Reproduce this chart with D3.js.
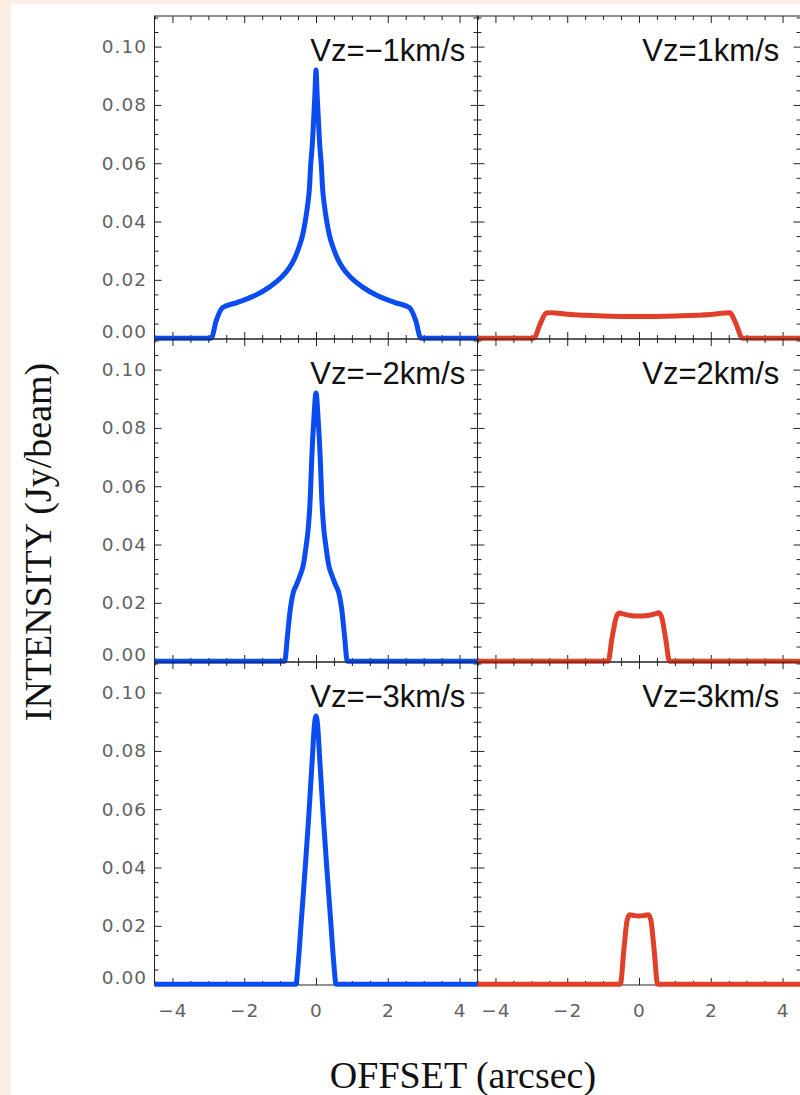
<!DOCTYPE html>
<html>
<head>
<meta charset="utf-8">
<script src="https://cdn.jsdelivr.net/npm/d3@7/dist/d3.min.js"></script>
<style>
  html, body { margin: 0; padding: 0; background: #fdeee3; }
  svg { display: block; }
</style>
</head>
<body>
<svg id="chart" width="800" height="1095"></svg>
<script>
// Velocity channel labels (row by row: left = blue-shifted, right = red-shifted)
const channelLabels = ["Vz=\u22121km/s", "Vz=1km/s", "Vz=\u22122km/s", "Vz=2km/s", "Vz=\u22123km/s", "Vz=3km/s"];

// Intensity cuts along the offset axis (arcsec, Jy/beam)
const offsetM1 = [-4.5, -2.92, -2.78, -2.6, -2.2, -1.72, -1.3, -0.98, -0.75, -0.61, -0.48, -0.38, -0.3, -0.24, -0.18, -0.15, -0.1, -0.07, -0.03, 0,
                  0.03, 0.07, 0.1, 0.15, 0.18, 0.24, 0.3, 0.38, 0.48, 0.61, 0.75, 0.98, 1.3, 1.72, 2.2, 2.6, 2.78, 2.92, 4.5];
const intensityM1 = [0, 0, 0.006, 0.0105, 0.0122, 0.0145, 0.0175, 0.0207, 0.024, 0.027, 0.031, 0.035, 0.040, 0.045, 0.052, 0.059, 0.067, 0.074, 0.084, 0.092,
                     0.084, 0.074, 0.067, 0.059, 0.052, 0.045, 0.040, 0.035, 0.031, 0.027, 0.024, 0.0207, 0.0175, 0.0145, 0.0122, 0.0105, 0.006, 0, 0];

const offsetP1 = [-4.5, -2.93, -2.75, -2.58, -2.45, -2.0, -1.0, 0, 1.0, 2.0, 2.4, 2.53, 2.7, 2.88, 4.5];
const intensityP1 = [0, 0, 0.005, 0.0086, 0.0087, 0.0082, 0.0076, 0.0074, 0.0076, 0.0081, 0.0086, 0.0087, 0.005, 0, 0];

const offsetM2 = [-4.5, -0.87, -0.8, -0.72, -0.64, -0.55, -0.45, -0.35, -0.28, -0.21, -0.16, -0.12, -0.06, 0,
                  0.06, 0.12, 0.16, 0.21, 0.28, 0.35, 0.45, 0.55, 0.64, 0.72, 0.8, 0.87, 4.5];
const intensityM2 = [0, 0, 0.008, 0.0175, 0.0232, 0.026, 0.0292, 0.0332, 0.039, 0.0464, 0.056, 0.069, 0.083, 0.092,
                     0.083, 0.069, 0.056, 0.0464, 0.039, 0.0332, 0.0292, 0.026, 0.0232, 0.0175, 0.008, 0, 0];

const offsetP2 = [-4.5, -0.86, -0.75, -0.62, -0.54, -0.45, -0.2, 0, 0.2, 0.45, 0.54, 0.62, 0.74, 0.85, 4.5];
const intensityP2 = [0, 0, 0.008, 0.0155, 0.0165, 0.0162, 0.0156, 0.0155, 0.0156, 0.0162, 0.0166, 0.0155, 0.008, 0, 0];

const offsetM3 = [-4.5, -0.56, -0.49, -0.42, -0.3, -0.2, -0.1, -0.05, 0, 0.05, 0.1, 0.2, 0.3, 0.42, 0.49, 0.56, 4.5];
const intensityM3 = [0, 0, 0.008, 0.020, 0.040, 0.058, 0.078, 0.088, 0.092, 0.088, 0.078, 0.058, 0.040, 0.020, 0.008, 0, 0];

const offsetP3 = [-4.5, -0.52, -0.42, -0.33, -0.26, -0.12, 0, 0.12, 0.26, 0.33, 0.42, 0.52, 4.5];
const intensityP3 = [0, 0, 0.012, 0.022, 0.0238, 0.0235, 0.0234, 0.0235, 0.0238, 0.022, 0.012, 0, 0];

// Axis ticks
const xMajorTicks = [-4, -2, 0, 2, 4];
const xMinorTicks = [-4.5, -3.5, -3, -2.5, -1.5, -1, -0.5, 0.5, 1, 1.5, 2.5, 3, 3.5, 4.5];
const yMajorTicks = [0, 0.02, 0.04, 0.06, 0.08, 0.10];
const yMinorTicks = [0.005, 0.01, 0.015, 0.025, 0.03, 0.035, 0.045, 0.05, 0.055, 0.065, 0.07, 0.075, 0.085, 0.09, 0.095, 0.105, 0.11];

const BLUE = "#0a4cf2";
const RED = "#e0402a";

const panels = [
  { label: channelLabels[0], x: offsetM1, y: intensityM1, color: BLUE },
  { label: channelLabels[1], x: offsetP1, y: intensityP1, color: RED },
  { label: channelLabels[2], x: offsetM2, y: intensityM2, color: BLUE },
  { label: channelLabels[3], x: offsetP2, y: intensityP2, color: RED },
  { label: channelLabels[4], x: offsetM3, y: intensityM3, color: BLUE },
  { label: channelLabels[5], x: offsetP3, y: intensityP3, color: RED }
];

const svg = d3.select("#chart");

// page background: peach border with white sheet
svg.append("rect").attr("x", 0).attr("y", 0).attr("width", 800).attr("height", 1095).attr("fill", "#fdeee3");
svg.append("rect").attr("x", 11).attr("y", 4).attr("width", 789).attr("height", 1091).attr("fill", "#ffffff");

const colX = [154.5, 477.5];
const panelW = 323;
const rowTop = 16;
const panelH = 323;

const tickFont = "DejaVu Sans, sans-serif";

function styleAxis(g) {
  g.select(".domain").remove();
  g.selectAll(".tick line").attr("stroke", "#222").attr("stroke-width", 1);
  g.selectAll(".tick text").attr("fill", "#636363").attr("font-family", tickFont)
    .attr("font-size", 18.5).attr("letter-spacing", "1px");
}

panels.forEach((p, i) => {
  const col = i % 2, row = Math.floor(i / 2);
  const x0 = colX[col], x1 = x0 + panelW;
  const top = rowTop + row * panelH, bottom = top + panelH;

  const x = d3.scaleLinear().domain([-4.5, 4.5]).range([x0, x1]);
  const y = d3.scaleLinear().domain([-0.0003, 0.1105]).range([bottom, top]);

  const g = svg.append("g");

  // frame
  g.append("rect").attr("x", x0).attr("y", top).attr("width", panelW).attr("height", panelH)
    .attr("fill", "none").attr("stroke", "#222").attr("stroke-width", 1);

  // left axis (labels only on the left column)
  const leftMajor = g.append("g").attr("transform", `translate(${x0},0)`)
    .call(d3.axisLeft(y).tickValues(yMajorTicks).tickSize(-7).tickPadding(7.5)
      .tickFormat(col === 0 ? d3.format(".2f") : () => ""));
  styleAxis(leftMajor);
  leftMajor.selectAll(".tick text").filter(d => d === 0).attr("transform", "translate(0,-7)");
  styleAxis(g.append("g").attr("transform", `translate(${x0},0)`)
    .call(d3.axisLeft(y).tickValues(yMinorTicks).tickSize(-4).tickFormat(() => "")));

  // right axis
  styleAxis(g.append("g").attr("transform", `translate(${x1},0)`)
    .call(d3.axisRight(y).tickValues(yMajorTicks).tickSize(-7).tickFormat(() => "")));
  styleAxis(g.append("g").attr("transform", `translate(${x1},0)`)
    .call(d3.axisRight(y).tickValues(yMinorTicks).tickSize(-4).tickFormat(() => "")));

  // top axis
  styleAxis(g.append("g").attr("transform", `translate(0,${top})`)
    .call(d3.axisTop(x).tickValues(xMajorTicks).tickSize(-7).tickFormat(() => "")));
  styleAxis(g.append("g").attr("transform", `translate(0,${top})`)
    .call(d3.axisTop(x).tickValues(xMinorTicks).tickSize(-4).tickFormat(() => "")));

  // bottom axis (labels only on the bottom row)
  styleAxis(g.append("g").attr("transform", `translate(0,${bottom})`)
    .call(d3.axisBottom(x).tickValues(xMajorTicks).tickSize(-7).tickPadding(19)
      .tickFormat(row === 2 ? d3.format("d") : () => "")));
  styleAxis(g.append("g").attr("transform", `translate(0,${bottom})`)
    .call(d3.axisBottom(x).tickValues(xMinorTicks).tickSize(-4).tickFormat(() => "")));

  // intensity profile
  const line = d3.line().x((d, k) => x(p.x[k])).y((d, k) => y(p.y[k])).curve(d3.curveMonotoneX);
  g.append("path").datum(p.x).attr("d", line)
    .attr("fill", "none").attr("stroke", p.color).attr("stroke-width", 5)
    .attr("stroke-linejoin", "round").attr("stroke-linecap", "butt");

  // channel label
  g.append("text").attr("x", x(2)).attr("y", top + 45)
    .attr("text-anchor", "middle").attr("font-family", "Liberation Sans, Arial, sans-serif")
    .attr("font-size", 31).attr("fill", "#111").text(p.label);
});

// axis titles
svg.append("text").attr("x", 463).attr("y", 1088).attr("text-anchor", "middle")
  .attr("font-family", "Liberation Serif, Times New Roman, serif").attr("font-size", 38)
  .attr("fill", "#111").text("OFFSET (arcsec)");
svg.append("text").attr("transform", "translate(51,542) rotate(-90)").attr("text-anchor", "middle")
  .attr("font-family", "Liberation Serif, Times New Roman, serif").attr("font-size", 38)
  .attr("fill", "#111").text("INTENSITY (Jy/beam)");
</script>
</body>
</html>
